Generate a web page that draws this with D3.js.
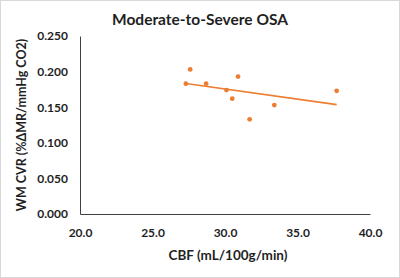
<!DOCTYPE html>
<html>
<head>
<meta charset="utf-8">
<script src="https://cdn.jsdelivr.net/npm/d3@7"></script>
<style>
  body { margin: 0; background: #fff; }
  svg { display: block; font-family: Lato, "Open Sans", sans-serif; }
</style>
</head>
<body>
<div id="chart"></div>
<script>
const TITLE = "Moderate-to-Severe OSA";
const X_LABEL = "CBF (mL/100g/min)";
const Y_LABEL = "WM CVR (%ΔMR/mmHg CO2)";

// CBF values (x) and WM CVR values (y)
const cbf = [27.3, 27.6, 28.7, 30.1, 30.5, 30.9, 31.7, 33.4, 37.7];
const cvr = [0.183, 0.203, 0.183, 0.174, 0.162, 0.193, 0.133, 0.153, 0.173];

const xTicks = [20, 25, 30, 35, 40];
const yTicks = [0, 0.05, 0.1, 0.15, 0.2, 0.25];

const W = 400, H = 278;
const MARGIN = {top: 36, right: 30, bottom: 64, left: 80};

const svg = d3.select("#chart").append("svg")
    .attr("width", W)
    .attr("height", H);

svg.append("rect")
    .attr("x", 0.5).attr("y", 0.5)
    .attr("width", W - 1).attr("height", H - 1)
    .attr("fill", "#fff")
    .attr("stroke", "#d9d9d9");

var x = d3.scaleLinear()
    .domain([20, 40])
    .range([MARGIN.left, W - MARGIN.right]);

var y = d3.scaleLinear()
    .domain([0, 0.25])
    .range([H - MARGIN.bottom, MARGIN.top]);

const xAxis = d3.axisBottom(x)
    .tickValues(xTicks)
    .tickSize(0)
    .tickPadding(14)
    .tickFormat(d3.format(".1f"));

const yAxis = d3.axisLeft(y)
    .tickValues(yTicks)
    .tickSize(0)
    .tickPadding(12)
    .tickFormat(d3.format(".3f"));

const gx = svg.append("g")
    .attr("transform", `translate(0,${H - MARGIN.bottom})`)
    .call(xAxis);

const gy = svg.append("g")
    .attr("transform", `translate(${MARGIN.left},0)`)
    .call(yAxis);

[gx, gy].forEach(g => {
    g.select(".domain").attr("stroke", "#404040").attr("stroke-width", 1);
    g.selectAll("text")
        .attr("fill", "#1f1f1f")
        .style("font-size", "12px")
        .style("font-weight", "bold")
        .style("font-family", "Lato, sans-serif");
});

// title
svg.append("text")
    .attr("x", 200)
    .attr("y", 25)
    .attr("text-anchor", "middle")
    .attr("fill", "#1f1f1f")
    .style("font-size", "15.5px")
    .style("font-weight", "bold")
    .text(TITLE);

// axis titles
svg.append("text")
    .attr("x", 228)
    .attr("y", 260)
    .attr("text-anchor", "middle")
    .attr("fill", "#1f1f1f")
    .style("font-size", "13.5px")
    .style("font-weight", "bold")
    .text(X_LABEL);

svg.append("text")
    .attr("transform", `translate(26,${(MARGIN.top + H - MARGIN.bottom) / 2}) rotate(-90)`)
    .attr("text-anchor", "middle")
    .attr("fill", "#1f1f1f")
    .style("font-size", "12.5px")
    .style("font-weight", "bold")
    .text(Y_LABEL);

// linear trendline (least squares)
const pts = cbf.map((v, i) => ({x: v, y: cvr[i]}));
const mx = d3.mean(pts, d => d.x), my = d3.mean(pts, d => d.y);
const slope = d3.sum(pts, d => (d.x - mx) * (d.y - my)) / d3.sum(pts, d => (d.x - mx) ** 2);
const icpt = my - slope * mx;
const ext = d3.extent(cbf);

svg.append("line")
    .attr("x1", x(ext[0])).attr("y1", y(icpt + slope * ext[0]))
    .attr("x2", x(ext[1])).attr("y2", y(icpt + slope * ext[1]))
    .attr("stroke", "#ED7D31")
    .attr("stroke-width", 1.6);

svg.selectAll(".pt")
    .data(pts)
    .enter()
    .append("circle")
    .classed("pt", true)
    .attr("cx", d => x(d.x))
    .attr("cy", d => y(d.y))
    .attr("r", 2.4)
    .attr("fill", "#ED7D31");
</script>
</body>
</html>
